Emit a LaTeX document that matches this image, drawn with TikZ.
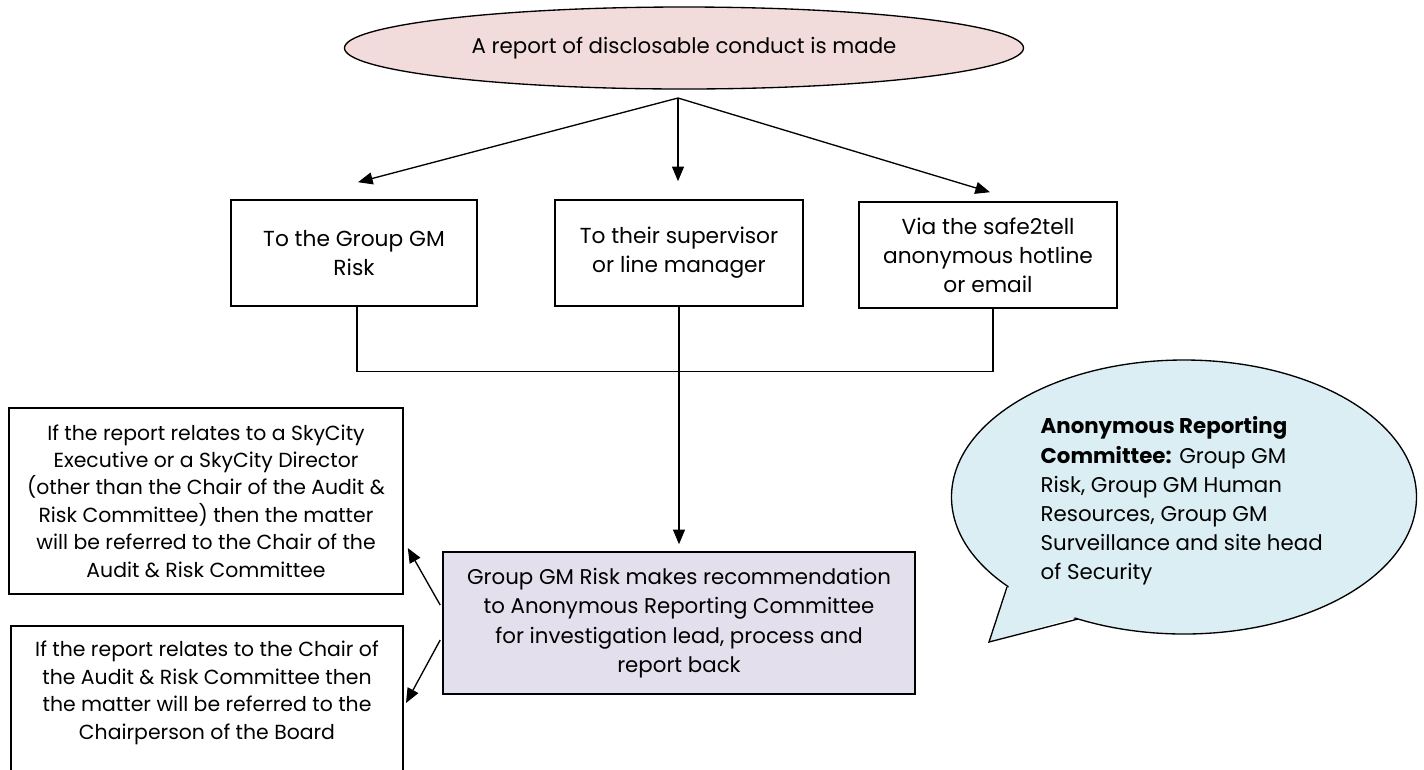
\documentclass[tikz,border=0pt]{standalone}
\usepackage{fontspec}
\setmainfont{Poppins}
\usetikzlibrary{arrows.meta,shapes.geometric}
\definecolor{reportpink}{HTML}{F2DCDB}
\definecolor{recommendlilac}{HTML}{E4DFEC}
\definecolor{committeeblue}{HTML}{DBEEF3}

\begin{document}
\begin{tikzpicture}[x=0.75pt,y=-0.75pt,line width=1pt,
  every node/.style={font=\fontsize{15.3}{20.6}\selectfont},
  box/.style={draw,line width=1.2pt,rectangle,inner sep=0pt,align=center},
  topbox/.style={box,minimum height=79.5pt,font=\fontsize{16.3}{21.75}\selectfont},
  arr/.style={-{Triangle[length=11pt,width=9pt]}}]
  \useasboundingbox (0,0) rectangle (1424,769);
  \clip (0,0) rectangle (1424,769);
  \node (report) [draw,ellipse,fill=reportpink,inner sep=0pt,minimum width=509.25pt,minimum height=61.5pt,
     font=\fontsize{16}{21.75}\selectfont] at (684,48) {A report of disclosable conduct is made};
  \node (gmrisk) [topbox,minimum width=184.5pt] at (354,253) {To the Group GM\\Risk};
  \node (supervisor) [topbox,minimum width=186pt] at (679,253) {To their supervisor\\or line manager};
  \node (hotline) [topbox,minimum width=193.5pt] at (988,255) {Via the safe2tell\\anonymous hotline\\or email};
  \node (gmrec) [box,fill=recommendlilac,minimum width=354pt,minimum height=106.5pt,
     font=\fontsize{16}{22}\selectfont] at (679,623)
     {Group GM Risk makes recommendation\\to Anonymous Reporting Committee\\for investigation lead, process and\\report back};
  \node (exec) [box,minimum width=295.5pt,minimum height=139.5pt] at (206,501)
     {If the report relates to a SkyCity\\Executive or a SkyCity Director\\(other than the Chair of the Audit \&\\Risk Committee) then the matter\\will be referred to the Chair of the\\Audit \& Risk Committee};
  \node (chair) [align=center,inner sep=0pt] at (207,693)
     {If the report relates to the Chair of\\the Audit \& Risk Committee then\\the matter will be referred to the\\Chairperson of the Board};
  \draw[line width=1.2pt] (11,790) |- (403,626) -- (403,790);
  \coordinate (split) at (678,98);
  \coordinate (chairin) at (406,703);
  \draw[arr] (split) -- ([xshift=3pt,yshift=12.75pt]gmrisk.north);
  \draw[arr] (split) -- ([xshift=-0.75pt,yshift=13.5pt]supervisor.north);
  \draw[arr] (split) -- ([xshift=1.5pt,yshift=6.75pt]hotline.north);
  \draw ([xshift=2.25pt]gmrisk.south) -- ++(0,65) -| ([xshift=3.75pt]hotline.south);
  \draw[arr] (supervisor.south) -- ([yshift=5.25pt]gmrec.north);
  \draw[arr] ([xshift=-1.5pt,yshift=13.5pt]gmrec.west) -- ([xshift=3pt,yshift=-35.25pt]exec.east);
  \draw[arr] ([xshift=-1.5pt,yshift=-12.75pt]gmrec.west) -- (chairin);
  \node (bubble) [draw,ellipse,fill=committeeblue,inner sep=0pt,minimum width=348.75pt,minimum height=205.5pt] at (1184,497) {};
  \fill[committeeblue] (1010,583) -- (989,642) -- (1080,616) -- cycle;
  \draw (1007,587) -- (989,642) -- (1078,619);
  \node (members) [anchor=west,align=left,inner sep=0pt,font=\fontsize{16}{21.9}\selectfont] at (1040,501)
     {\textbf{Anonymous Reporting}\\\textbf{Committee:} Group GM\\Risk, Group GM Human\\Resources, Group GM\\Surveillance and site head\\of Security};
\end{tikzpicture}
\end{document}
